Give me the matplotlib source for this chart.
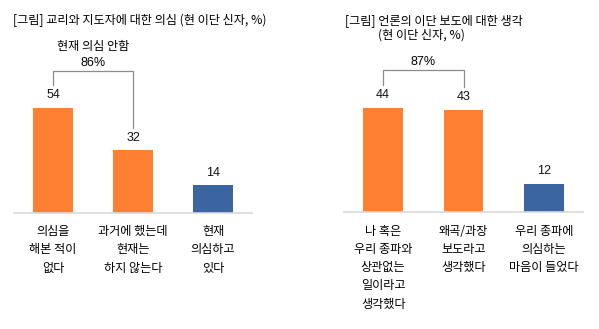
import matplotlib
matplotlib.use("Agg")
import matplotlib.pyplot as plt

plt.rcParams['font.family'] = ['Noto Sans CJK KR', 'DejaVu Sans']

# left chart data
left_title = "[그림] 교리와 지도자에 대한 의심 (현 이단 신자, %)"
left_cats = ["의심을\n해본 적이\n없다", "과거에 했는데\n현재는\n하지 않는다", "현재\n의심하고\n있다"]
left_vals = [54, 32, 14]
left_group_label = "현재 의심 안함"
left_group_pct = "86%"

# right chart data
right_title = ["[그림] 언론의 이단 보도에 대한 생각", "(현 이단 신자, %)"]
right_cats = ["나 혹은\n우리 종파와\n상관없는\n일이라고\n생각했다", "왜곡/과장\n보도라고\n생각했다", "우리 종파에\n의심하는\n마음이 들었다"]
right_vals = [44, 43, 12]
right_group_pct = "87%"

ORANGE = "#FF7F33"
BLUE = "#3A65A1"
W, H = 599, 329
FS = 8.75
NUM = ["Liberation Sans", "DejaVu Sans"]

fig = plt.figure(figsize=(W / 100, H / 100), dpi=100)


def make_ax(x0, x1, base_y, top_y):
    return fig.add_axes([x0 / W, 1 - base_y / H, (x1 - x0) / W, (base_y - top_y) / H])


def draw(ax, vals, cats, scale, base_px, top_px, colors):
    x = range(len(vals))
    ax.bar(x, vals, width=0.49, color=colors)
    ax.set_xlim(-0.4875, 2.4875)
    ax.set_ylim(0, (base_px - top_px) / scale)
    for s in ["top", "right", "left"]:
        ax.spines[s].set_visible(False)
    ax.spines["bottom"].set_color("#D9D9D9")
    ax.spines["bottom"].set_linewidth(1.2)
    ax.set_yticks([])
    ax.set_xticks(list(x))
    ax.set_xticklabels(cats, fontsize=FS, linespacing=1.52)
    ax.tick_params(axis="x", length=0, pad=9)
    for i, v in enumerate(vals):
        ax.annotate(str(v), (i, v), xytext=(0, 5), textcoords="offset points",
                    ha="center", va="bottom", fontsize=9, color="#111111",
                    family=NUM)


def bracket(ax, v1, v2, gap, top):
    ax.plot([0, 0, 1, 1], [v1 + gap, top, top, v2 + gap], color="#8C8C8C",
            lw=0.9, clip_on=False)


# left
ax1 = make_ax(14, 252, 212.7, 40)
sc1 = 1.944
draw(ax1, left_vals, left_cats, sc1, 212.7, 40, [ORANGE, ORANGE, BLUE])
bracket(ax1, left_vals[0], left_vals[1], 11.7, 73)
ax1.text(0.5, 77, left_group_pct, ha="center", va="center", fontsize=9, family=NUM)
ax1.text(0.5, 85.5, left_group_label, ha="center", va="center", fontsize=FS)
fig.text(13 / W, 1 - 20.7 / H, left_title, ha="left", va="center", fontsize=FS)

# right
ax2 = make_ax(344, 583, 212.3, 40)
sc2 = 2.377
draw(ax2, right_vals, right_cats, sc2, 212.3, 40, [ORANGE, ORANGE, BLUE])
top2 = (212.3 - 70) / sc2
bracket(ax2, right_vals[0], right_vals[1], (212.3 - 85) / sc2 - right_vals[0], top2)
ax2.text(0.5, (212.3 - 61.7) / sc2, right_group_pct, ha="center", va="center",
         fontsize=9, family=NUM)
fig.text(345 / W, 1 - 20.7 / H, right_title[0], ha="left", va="center", fontsize=FS)
fig.text(378 / W, 1 - 35 / H, right_title[1], ha="left", va="center", fontsize=FS)

fig.savefig("out.png", dpi=100, facecolor="white")
